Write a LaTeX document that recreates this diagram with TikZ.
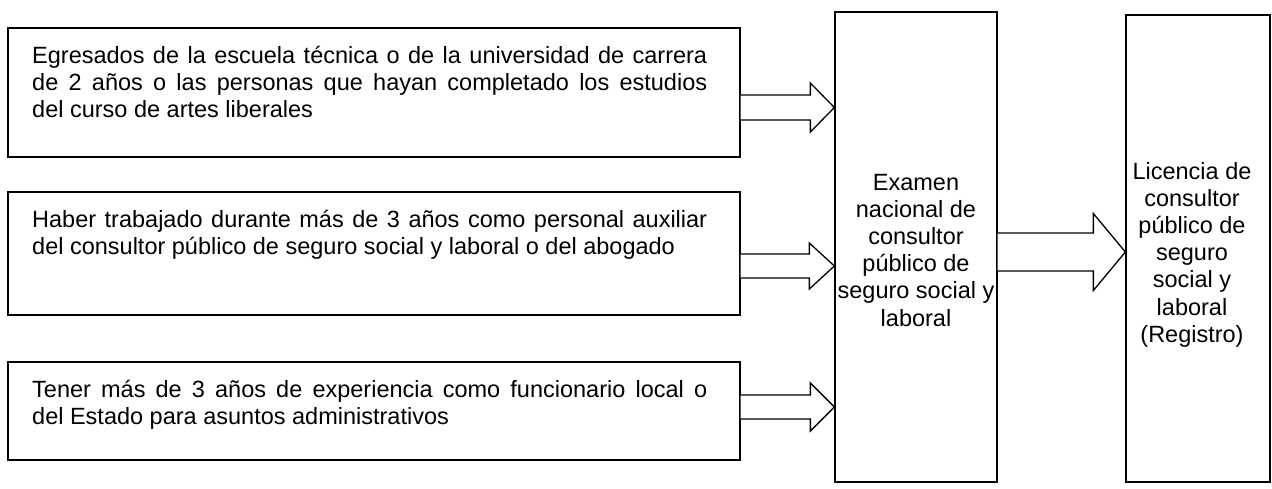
\documentclass[tikz,border=0pt]{standalone}
\usepackage{fontspec}
\setmainfont{Liberation Sans}
\usetikzlibrary{calc}
\newcommand{\lefttxt}{\fontsize{23.5}{27}\selectfont\hyphenpenalty=10000\exhyphenpenalty=10000}
\newcommand{\boxtxt}{\fontsize{23.5}{27.2}\selectfont}
% block arrow: #1 source node, #2 target node, #3 coordinate giving the y, #4 body half height, #5 head half height, #6 head length
\newcommand{\blkarrow}[6]{%
  \draw[blockarrow] ([yshift=#4pt]#1.east |- #3) -- ([xshift=-#6pt,yshift=#4pt]#2.west |- #3)
    -- ([xshift=-#6pt,yshift=#5pt]#2.west |- #3) -- (#2.west |- #3)
    -- ([xshift=-#6pt,yshift=-#5pt]#2.west |- #3) -- ([xshift=-#6pt,yshift=-#4pt]#2.west |- #3)
    -- ([yshift=-#4pt]#1.east |- #3);}
\begin{document}
\begin{tikzpicture}[x=1pt,y=-1pt,
  box/.style={draw, line width=1.3pt, inner sep=0pt},
  blockarrow/.style={draw, fill=white, line width=1.3pt, line join=miter},
  lefttext/.style={anchor=base west, inner sep=0pt},
  midtext/.style={anchor=base, inner sep=0pt}]
\useasboundingbox (0,0) rectangle (1272,488);
% boxes
\node[box, minimum width=732pt, minimum height=129pt] (b1) at (374,92.5) {};
\node[box, minimum width=732pt, minimum height=123pt] (b2) at (374,253.5) {};
\node[box, minimum width=732pt, minimum height=98pt] (b3) at (374,411) {};
\node[box, minimum width=162pt, minimum height=470pt] (m) at (916,247) {};
\node[box, minimum width=144pt, minimum height=467pt] (r) at (1198,248.5) {};
% texts
\node[lefttext] (t1) at (32,63) {\parbox[t]{675pt}{\lefttxt Egresados de la escuela técnica o de la universidad de carrera\linebreak de 2 años o las personas que hayan completado los estudios\linebreak del curso de artes liberales}};
\node[lefttext] (t2) at (32,227) {\parbox[t]{675pt}{\lefttxt Haber trabajado durante más de 3 años como personal auxiliar\linebreak del consultor público de seguro social y laboral o del abogado}};
\node[lefttext] (t3) at (32,397) {\parbox[t]{675pt}{\lefttxt Tener más de 3 años de experiencia como funcionario local o\linebreak del Estado para asuntos administrativos}};
\node[midtext] (mt) at (916,190) {\parbox[t]{170pt}{\centering\boxtxt Examen\\nacional de\\consultor\\público de\\seguro social y\\laboral}};
\node[midtext] (rt) at (1192,179) {\parbox[t]{150pt}{\centering\boxtxt Licencia de\\consultor\\público de\\seguro\\social y\\laboral\\(Registro)}};
% arrows
\coordinate (c1) at (0,107.5);
\coordinate (c2) at (0,266);
\coordinate (c3) at (0,407);
\coordinate (c4) at (0,252);
\blkarrow{b1}{m}{c1}{12.5}{24.5}{24}
\blkarrow{b2}{m}{c2}{12}{23}{25}
\blkarrow{b3}{m}{c3}{12}{24}{24}
\blkarrow{m}{r}{c4}{19}{38.5}{32}
\end{tikzpicture}
\end{document}
